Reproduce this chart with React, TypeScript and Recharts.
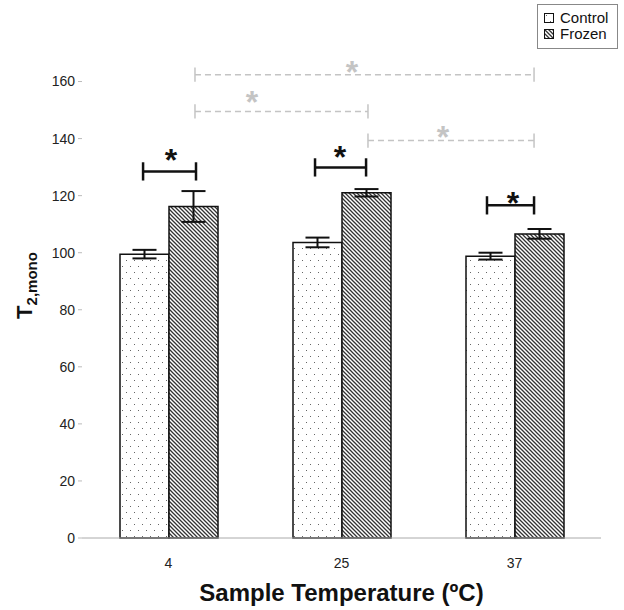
import { BarChart, Bar, XAxis, YAxis, ErrorBar, ReferenceLine, ReferenceDot } from "recharts";

const categories = ["4", "25", "37"];
const positions = [0.5, 1.5, 2.5];
const controlValues = [99.5, 103.6, 98.8];
const frozenValues = [116.2, 121.0, 106.6];
const controlErr = [1.5, 1.7, 1.2];
const frozenErr = [5.4, 1.3, 1.7];
const yTicks = [0, 20, 40, 60, 80, 100, 120, 140, 160];

// significance brackets, x in category units (0..3), y in data units
const brackets = [
  { x1: 0.353, x2: 0.659, y: 128.5, sx: 0.514, sy: 134, gray: false },
  { x1: 1.347, x2: 1.642, y: 129.9, sx: 1.491, sy: 134.8, gray: false },
  { x1: 2.341, x2: 2.613, y: 116.6, sx: 2.491, sy: 119, gray: false },
  { x1: 0.653, x2: 2.613, y: 162.4, sx: 1.561, sy: 164.9, gray: true },
  { x1: 0.653, x2: 1.653, y: 149.5, sx: 0.983, sy: 154.4, gray: true },
  { x1: 1.653, x2: 2.613, y: 139.3, sx: 2.087, sy: 142.1, gray: true },
];

const data = categories.map((c, i) => ({
  cat: c,
  pos: positions[i],
  control: controlValues[i],
  frozen: frozenValues[i],
  controlErr: controlErr[i],
  frozenErr: frozenErr[i],
}));

const FONT = "'Liberation Sans', Arial, sans-serif";

function Star(props: any) {
  const { cx, cy, gray } = props;
  return (
    <text x={cx} y={cy + 15} textAnchor="middle" fontFamily={FONT} fontWeight={700} fontSize={32} fill={gray ? "#c4c4c4" : "#111"}>
      *
    </text>
  );
}

function LegendBox() {
  const row = (label: string, fill: string) => (
    <div style={{ display: "flex", alignItems: "center", height: 16 }}>
      <svg width={10} height={10} style={{ marginRight: 6 }}>
        <rect x={0.5} y={0.5} width={9} height={9} fill={fill} stroke="#111" />
      </svg>
      <span>{label}</span>
    </div>
  );
  return (
    <div style={{ position: "absolute", top: 4, left: 537, width: 70, border: "1px solid #888", padding: "5px 3px 6px 6px", fontFamily: FONT, fontSize: 15, color: "#111", background: "#fff", lineHeight: "16px" }}>
      {row("Control", "url(#dots)")}
      {row("Frozen", "url(#hatch)")}
    </div>
  );
}

export default function App() {
  return (
    <div style={{ position: "absolute", left: 0, top: 0, width: 624, height: 610, background: "#fff" }}>
      <svg width={0} height={0} style={{ position: "absolute" }}>
        <defs>
          <pattern id="dots" width={8} height={12} patternUnits="userSpaceOnUse">
            <rect width={8} height={12} fill="#fff" />
            <rect x={2} y={2} width={1} height={1} fill="#666" />
            <rect x={6} y={8} width={1} height={1} fill="#666" />
          </pattern>
          <pattern id="hatch" width={4} height={4} patternUnits="userSpaceOnUse">
            <rect width={4} height={4} fill="#fff" />
            <path d="M-1,-1 L5,5 M-1,3 L1,5 M3,-1 L5,1" stroke="#333" strokeWidth={1.3} />
          </pattern>
        </defs>
      </svg>
      <BarChart width={624} height={610} data={data} margin={{ top: 53, right: 23, bottom: 0, left: 0 }} barGap={0} barSize={49}>
        <XAxis
          dataKey="pos"
          type="number"
          domain={[0, 3]}
          ticks={positions}
          allowDataOverflow
          tickFormatter={(v: number) => categories[positions.indexOf(v)]}
          height={72}
          tickLine={false}
          axisLine={{ stroke: "#aaa" }}
          tick={{ fill: "#222", fontSize: 14, fontFamily: FONT }}
          tickMargin={14}
          label={{
            content: ({ viewBox }: any) => (
              <text x={viewBox.x + viewBox.width / 2} y={viewBox.y + 63} textAnchor="middle" fontFamily={FONT} fontWeight={700} fontSize={24} fill="#111">
                Sample Temperature (ºC)
              </text>
            ),
          }}
        />
        <YAxis
          width={82}
          domain={[0, 170]}
          ticks={yTicks}
          axisLine={false}
          tickSize={4}
          tickMargin={3}
          tickLine={{ stroke: "#bbb" }}
          tick={{ fill: "#222", fontSize: 14, fontFamily: FONT }}
          label={{
            content: ({ viewBox }: any) => {
              const cx = 32;
              const cy = viewBox.y + viewBox.height / 2 - 10;
              return (
                <text transform={`translate(${cx},${cy}) rotate(-90)`} textAnchor="middle" fontFamily={FONT} fontWeight={700} fill="#111">
                  <tspan fontSize={22}>T</tspan>
                  <tspan fontSize={15} dy={5}>2,mono</tspan>
                </text>
              );
            },
          }}
        />
        <Bar dataKey="control" name="Control" fill="url(#dots)" stroke="#111" strokeWidth={1.5} isAnimationActive={false}>
          <ErrorBar dataKey="controlErr" width={12} stroke="#111" strokeWidth={2} />
        </Bar>
        <Bar dataKey="frozen" name="Frozen" fill="url(#hatch)" stroke="#111" strokeWidth={1.5} isAnimationActive={false}>
          <ErrorBar dataKey="frozenErr" width={12} stroke="#111" strokeWidth={2} />
        </Bar>
        {brackets.map((b, i) => {
          const stroke = b.gray ? "#c4c4c4" : "#111";
          const sw = b.gray ? 1.5 : 2.5;
          const dash = b.gray ? "6 4" : undefined;
          const h = b.gray ? 2.5 : 3.2;
          return [
            <ReferenceLine key={`h${i}`} ifOverflow="visible" stroke={stroke} strokeWidth={sw} strokeDasharray={dash}
              segment={[{ x: b.x1, y: b.y }, { x: b.x2, y: b.y }]} />,
            <ReferenceLine key={`l${i}`} ifOverflow="visible" stroke={stroke} strokeWidth={sw}
              segment={[{ x: b.x1, y: b.y - h }, { x: b.x1, y: b.y + h }]} />,
            <ReferenceLine key={`r${i}`} ifOverflow="visible" stroke={stroke} strokeWidth={sw}
              segment={[{ x: b.x2, y: b.y - h }, { x: b.x2, y: b.y + h }]} />,
            <ReferenceDot key={`s${i}`} x={b.sx} y={b.sy} r={0} ifOverflow="visible" shape={(p: any) => <Star {...p} gray={b.gray} />} />,
          ];
        })}
      </BarChart>
      <LegendBox />
    </div>
  );
}
